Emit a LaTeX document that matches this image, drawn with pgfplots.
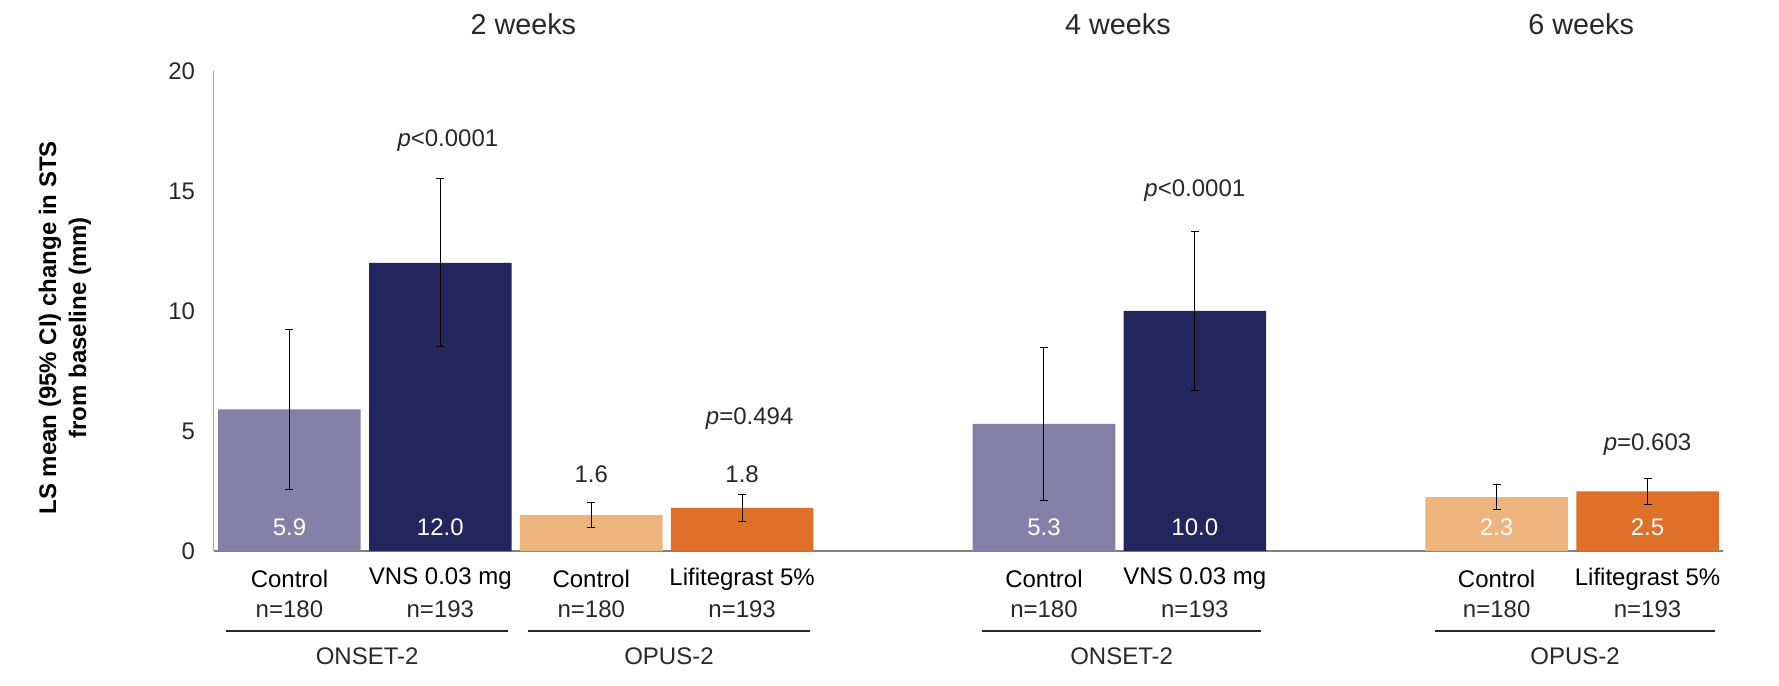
\documentclass[border=0pt]{standalone}
\usepackage{fontspec}
\setmainfont{Liberation Sans}
\usepackage{pgfplots}
\pgfplotsset{compat=1.18}
\usepackage{pgfplotstable}

\definecolor{ctrlpurple}{RGB}{133,128,168}
\definecolor{vnsnavy}{RGB}{35,37,93}
\definecolor{ctrlorange}{RGB}{237,180,126}
\definecolor{lifiorange}{RGB}{222,112,42}
\definecolor{axisgray}{RGB}{128,128,128}
\definecolor{txt}{RGB}{40,40,40}

\newcommand{\fs}{\fontsize{12bp}{15bp}\selectfont}

\pgfplotsset{ci/.style={draw=none,
  error bars/y dir=both, error bars/y explicit,
  error bars/error bar style={black, line width=0.5bp},
  error bars/error mark options={rotate=90, black, mark size=2bp, line width=0.5bp}}}

% x position, mean, half width of 95% CI
\pgfplotstableread{
x y e
0 5.9 3.35
5 5.3 3.2
}\onsetctrl
\pgfplotstableread{
x y e
1 12.0 3.5
6 10.0 3.32
}\onsetvns
\pgfplotstableread{
x y e
2 1.5 0.53
8 2.25 0.53
}\opusctrl
\pgfplotstableread{
x y e
3 1.8 0.55
9 2.48 0.54
}\opuslifi

\begin{document}
\begin{tikzpicture}
\begin{axis}[
    name=ax,
    scale only axis,
    width=754.5bp, height=240bp,
    xmin=-0.5, xmax=9.5,
    ymin=0, ymax=20,
    axis x line=bottom, axis y line=left,
    x axis line style={-, draw=axisgray, line width=0.9bp},
    y axis line style={-, draw=axisgray!70, line width=0.5bp},
    xtick=\empty,
    ytick={0,5,10,15,20},
    major tick length=0pt,
    yticklabel style={font=\fs, text=txt, xshift=-6bp},
    /pgf/number format/assume math mode=true,
    clip=false,
    ybar, bar width=0.945, bar shift=0pt,
]
\addplot[ci, fill=ctrlpurple] table[x=x, y=y, y error=e] {\onsetctrl};
\addplot[ci, fill=vnsnavy] table[x=x, y=y, y error=e] {\onsetvns};
\addplot[ci, fill=ctrlorange] table[x=x, y=y, y error=e] {\opusctrl};
\addplot[ci, fill=lifiorange] table[x=x, y=y, y error=e] {\opuslifi};

% values inside bars
\begin{scope}[every node/.style={font=\fs, text=white}]
\node at (axis cs:0,1.0) {5.9};
\node at (axis cs:1,1.0) {12.0};
\node at (axis cs:5,1.0) {5.3};
\node at (axis cs:6,1.0) {10.0};
\node at (axis cs:8,1.0) {2.3};
\node at (axis cs:9,1.0) {2.5};
\end{scope}
\begin{scope}[every node/.style={font=\fs, text=txt}]
\node at (axis cs:2,3.2) {1.6};
\node at (axis cs:3,3.2) {1.8};
\node at (axis cs:1.05,17.1) {\textit{p}<0.0001};
\node at (axis cs:6.0,15.0) {\textit{p}<0.0001};
\node at (axis cs:3.05,5.5) {\textit{p}=0.494};
\node at (axis cs:9.0,4.45) {\textit{p}=0.603};
\end{scope}
% category labels
\begin{scope}[every node/.style={font=\fs, text=black}]
\node at (axis cs:0,-1.17) {Control};      \node[text=txt] at (axis cs:0,-2.42) {n=180};
\node at (axis cs:1,-1.17) {VNS 0.03 mg};  \node[text=txt] at (axis cs:1,-2.42) {n=193};
\node at (axis cs:2,-1.17) {Control};      \node[text=txt] at (axis cs:2,-2.42) {n=180};
\node at (axis cs:3,-1.17) {Lifitegrast 5\%}; \node[text=txt] at (axis cs:3,-2.42) {n=193};
\node at (axis cs:5,-1.17) {Control};      \node[text=txt] at (axis cs:5,-2.42) {n=180};
\node at (axis cs:6,-1.17) {VNS 0.03 mg};  \node[text=txt] at (axis cs:6,-2.42) {n=193};
\node at (axis cs:8,-1.17) {Control};      \node[text=txt] at (axis cs:8,-2.42) {n=180};
\node at (axis cs:9,-1.17) {Lifitegrast 5\%}; \node[text=txt] at (axis cs:9,-2.42) {n=193};
\end{scope}
% study groups
\begin{scope}[every node/.style={font=\fs, text=txt}]
\draw[txt, line width=0.9bp] (axis cs:-0.42,-3.33) -- (axis cs:1.45,-3.33);
\draw[txt, line width=0.9bp] (axis cs:1.58,-3.33) -- (axis cs:3.45,-3.33);
\draw[txt, line width=0.9bp] (axis cs:4.59,-3.33) -- (axis cs:6.44,-3.33);
\draw[txt, line width=0.9bp] (axis cs:7.59,-3.33) -- (axis cs:9.45,-3.33);
\node at (axis cs:0.515,-4.375) {ONSET-2};
\node at (axis cs:2.515,-4.375) {OPUS-2};
\node at (axis cs:5.515,-4.375) {ONSET-2};
\node at (axis cs:8.52,-4.375) {OPUS-2};
\end{scope}
% time point titles
\begin{scope}[every node/.style={font=\fontsize{14.4bp}{17bp}\selectfont, text=txt}]
\node at (axis cs:1.55,21.96) {2 weeks};
\node at (axis cs:5.49,21.96) {4 weeks};
\node at (axis cs:8.56,21.96) {6 weeks};
\end{scope}
% y axis title
\node[rotate=90, align=center, font=\fs\bfseries, text=black]
  at ([xshift=-74.5bp]rel axis cs:0,0.465) {LS mean (95\% CI) change in STS\\from baseline (mm)};
\end{axis}
\path[use as bounding box] ([shift={(-107bp,-67.5bp)}]ax.south west) rectangle ++(889.5bp,343bp);
\end{tikzpicture}
\end{document}
